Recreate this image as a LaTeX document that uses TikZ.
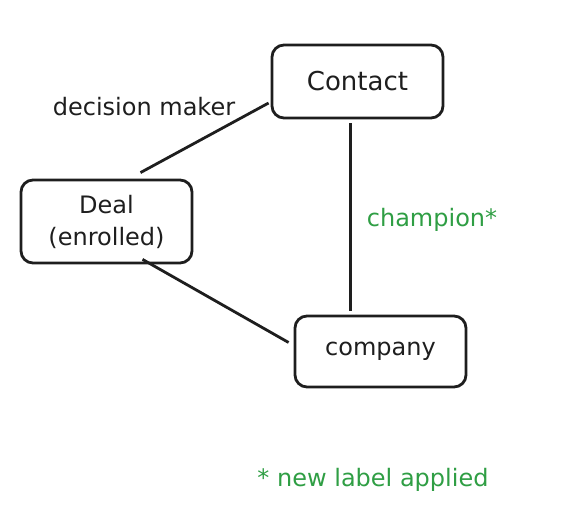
\documentclass[tikz,border=0pt]{standalone}
\usepackage{fontspec}
\setmainfont{DejaVu Sans}
\definecolor{exgreen}{HTML}{2F9E44}
\definecolor{ink}{HTML}{1E1E1E}
\begin{document}
\begin{tikzpicture}[x=1pt,y=-1pt,
  box/.style={draw=ink,line width=2.8pt,rounded corners=12pt,inner sep=0pt,align=center,font=\fontsize{24}{32}\selectfont,text=ink},
  link/.style={draw=ink,line width=2.8pt},
  lbl/.style={font=\fontsize{24}{30}\selectfont,inner sep=0pt}]
\useasboundingbox (0,0) rectangle (562,529);
\node[box,minimum width=171pt,minimum height=73pt,font=\fontsize{26}{30}\selectfont] (contact) at (357.5,81.5) {Contact};
\node[box,minimum width=171pt,minimum height=83pt] (deal) at (106.5,221.5) {Deal\\(enrolled)};
\node[box,minimum width=171pt,minimum height=71pt] (company) at (380.5,351.5) {company};
\draw[link] ([shift={(-2,21.5)}]contact.west) -- ([shift={(34,-6)}]deal.north);
\draw[link] ([shift={(-7,4)}]contact.south) -- ([shift={(-30,-4)}]company.north);
\draw[link] ([shift={(36,-5)}]deal.south) -- ([shift={(-5,-9)}]company.west);
\node[lbl,text=ink] (dm) at (144,107) {decision maker};
\node[lbl,text=exgreen] (champ) at (432,220) {champion*};
\node[lbl,text=exgreen] (note) at (373,480) {* new label applied};
\end{tikzpicture}
\end{document}
